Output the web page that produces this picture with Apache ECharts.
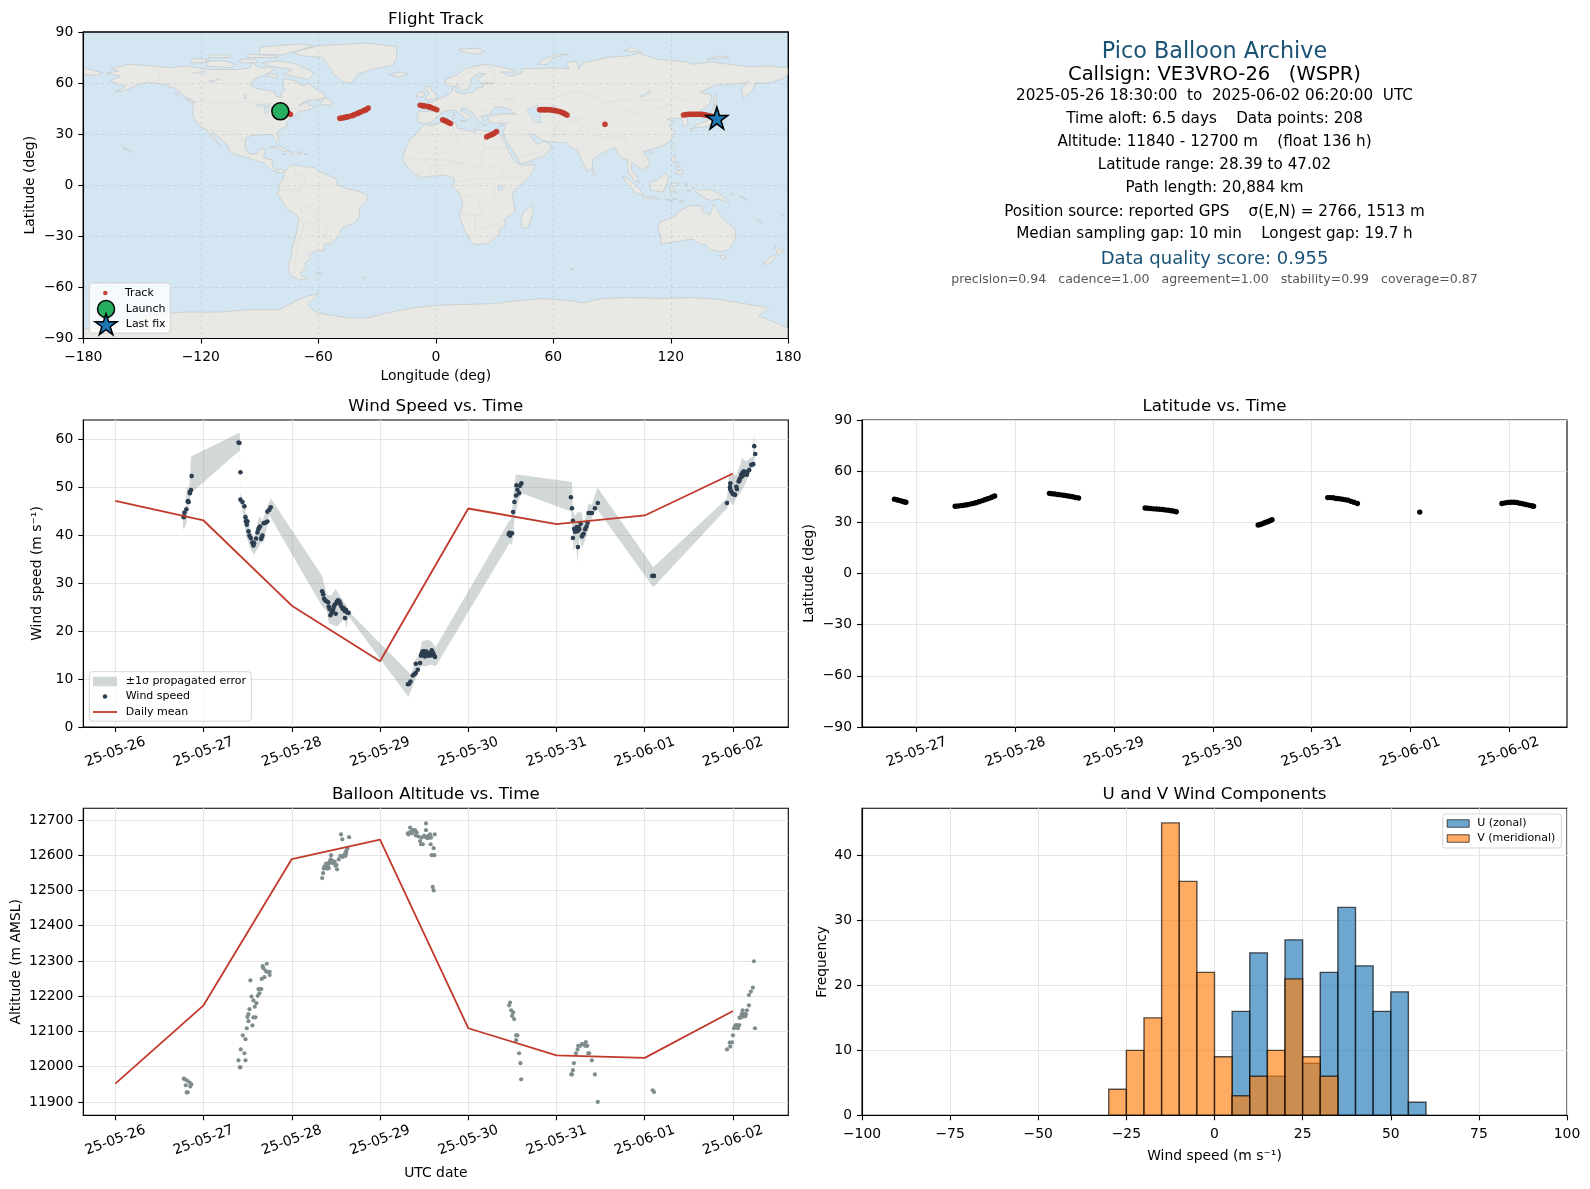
<!DOCTYPE html>
<html><head><meta charset="utf-8">
<script src="https://cdn.jsdelivr.net/npm/echarts@6/dist/echarts.min.js"></script>
<style>html,body{margin:0;padding:0;background:#fff}#c{width:1590px;height:1189px}</style>
</head><body><div id="c"></div>
<script>
// ---------- data ----------
const dayTicks=[0,1,2,3,4,5,6,7];
const dayLabels=['25-05-26','25-05-27','25-05-28','25-05-29','25-05-30','25-05-31','25-06-01','25-06-02'];
const windTicks=[0,10,20,30,40,50,60];
const altTicks=[11900,12000,12100,12200,12300,12400,12500,12600,12700];
const freqTicks=[0,10,20,30,40];
const dailyWind=[47.15,43.05,25.3,13.7,45.55,42.3,44.1,52.85];
const dailyAlt=[11952,12174,12589,12644,12109,12032,12025,12158];
const windPoints=[[.775,43.75],[.783,44.7],[.777,43.9],[.805,45.4],[.82,47],[.831,46.9],[.825,47.1],[.846,48.75],[.843,49],[.858,49.4],[.865,52.3],
[1.396,59.3],[1.407,59.2],[1.418,53.1],[1.418,47.4],[1.441,46.9],[1.463,46],[1.475,43.75],[1.479,42.85],[1.49,42.15],[1.497,42.85],[1.486,43],[1.509,40.8],[1.52,39.9],[1.535,39.4],[1.554,38.5],[1.565,37.85],[1.573,38.3],[1.558,38.3],[1.595,39.3],[1.61,40.55],[1.621,41.25],[1.64,41.8],[1.63,41.6],[1.652,39.2],[1.667,39.9],[1.66,39.6],[1.682,42.5],[1.704,42.6],[1.723,42.85],[1.723,44.9],[1.746,45.3],[1.761,45.8],
[2.344,28.3],[2.355,27.7],[2.366,26.8],[2.378,26.4],[2.393,26.2],[2.412,26],[2.419,25.1],[2.427,24.6],[2.438,23.3],[2.449,23.75],[2.464,24.1],[2.476,25.1],[2.487,25.5],[2.498,23.6],[2.506,26],[2.517,26.2],[2.524,26.4],[2.54,26.2],[2.551,25.7],[2.562,25.1],[2.577,24.6],[2.588,24.8],[2.6,24.2],[2.615,24.4],[2.626,23.9],[2.603,22.7],[2.645,23.8],[2.53,25.8],[2.47,24.6],
[3.315,8.9],[3.33,9],[3.345,9.5],[3.371,10.75],[3.39,11],[3.405,11.25],[3.405,13.2],[3.427,11.95],[3.454,13.35],[3.465,14.85],[3.48,15.75],[3.495,15.4],[3.51,14.7],[3.525,15.75],[3.548,14.85],[3.567,15.4],[3.586,16],[3.604,15.3],[3.623,14.6],[3.535,15.2],[3.575,14.9],[3.595,15.6],[3.612,14.9],[3.5,15.8],[3.47,15.2],
[4.459,40.2],[4.474,39.9],[4.497,40.4],[4.467,40.5],[4.508,44.8],[4.523,46.9],[4.542,48.25],[4.557,49.45],[4.576,48.75],[4.546,50.4],[4.587,50.3],[4.602,50.8],
[5.163,47.9],[5.175,45.6],[5.186,43],[5.186,39.4],[5.201,41.3],[5.216,41],[5.231,41.7],[5.243,37.5],[5.239,40.8],[5.258,41.25],[5.273,42.35],[5.288,39.7],[5.307,40.3],[5.325,41.25],[5.34,41.8],[5.352,42.6],[5.363,44.6],[5.401,44.6],[5.435,45.6],[5.468,46.7],[5.21,40.7],[5.25,41.6],[5.295,40],[5.38,44.6],
[6.086,31.5],[6.105,31.5],
[6.932,46.7],[6.97,50.8],[6.966,50],[6.968,49.6],[6.981,49.1],[6.996,48.6],[7.023,48.4],[7.038,50.1],[7.045,49.6],[7.064,51.2],[7.075,51.7],[7.087,52],[7.072,51.3],[7.094,52.6],[7.109,53.05],[7.124,53.3],[7.139,52.9],[7.158,52.6],[7.166,53.2],[7.184,53.6],[7.207,54.65],[7.23,54.8],[7.241,58.55],[7.252,56.9],[7.01,48.5],[7.1,52.2],[7.115,52.5],[7.13,52.7],[7.15,53]];
const bandUpper=[[.764,43.2],[.794,44.6],[.809,49.8],[.839,50.1],[.858,56.4],[1.396,61.25],[1.411,61.25],[1.418,48.75],[1.43,48.05],[1.46,46.65],[1.479,44.6],[1.516,41.8],[1.561,39.4],[1.584,39.7],[1.629,44],[1.667,42.85],[1.723,46],[1.761,47.7],[2.344,31.5],[2.363,30],[2.4,27.6],[2.45,27.4],[2.494,28.75],[2.551,27.2],[2.626,25.1],[2.645,24.1],[3.352,10.9],[3.405,14],[3.454,15.75],[3.473,17.85],[3.548,18.2],[3.585,17.85],[3.631,16.65],[4.459,42.85],[4.486,43.2],[4.497,44.6],[4.512,48.75],[4.542,52.9],[4.553,52.55],[4.602,52.55],[5.175,51.1],[5.186,45.3],[5.212,43.9],[5.239,44.9],[5.258,44.6],[5.28,45.05],[5.307,42.5],[5.333,43.9],[5.363,46.65],[5.401,46.3],[5.465,49.95],[6.097,33.3],[6.933,47.7],[6.963,53.6],[6.99,52.55],[7.038,52.55],[7.076,54.3],[7.102,56.05],[7.151,55.35],[7.189,56.05],[7.226,56.4],[7.238,61.25],[7.249,57.8]];
const bandLower=[[.771,41.1],[.801,42.15],[.831,46],[.858,48.75],[1.396,57.45],[1.411,57.45],[1.418,46.65],[1.441,45.3],[1.467,41.8],[1.49,39.4],[1.535,36.95],[1.573,35.9],[1.648,38.35],[1.685,38.7],[1.742,44.25],[2.344,25.1],[2.4,24.1],[2.419,21.65],[2.513,20.95],[2.6,22.7],[2.619,20.6],[2.645,23.05],[3.322,6.25],[3.341,7.1],[3.405,10.2],[3.465,12.65],[3.51,12.65],[3.585,13],[3.631,12.65],[4.467,38.3],[4.497,38],[4.527,43.9],[4.572,47.35],[4.602,48.75],[5.167,44.9],[5.182,41.1],[5.194,36.6],[5.224,38.35],[5.239,34.15],[5.258,39.7],[5.288,37.3],[5.325,39],[5.37,41.8],[5.42,44.6],[5.465,45.3],[6.097,29.15],[6.933,45.6],[6.963,47],[7,46.3],[7.038,47.7],[7.095,49.1],[7.151,51.2],[7.207,54],[7.238,54],[7.249,56.05]];
const altPoints=[[.775,11966],[.79,11964],[.816,11960],[.842,11955],[.861,11950],[.85,11944],[.798,11947],[.809,11927],[.82,11927],
[1.411,11998],[1.418,11998],[1.396,12018],[1.475,12018],[1.463,12038],[1.422,12049],[1.475,12078],[1.445,12089],[1.49,12109],[1.554,12117],[1.509,12129],[1.497,12141],[1.565,12140],[1.588,12140],[1.509,12149],[1.52,12163],[1.58,12170],[1.599,12180],[1.565,12188],[1.543,12199],[1.614,12201],[1.633,12208],[1.622,12220],[1.64,12220],[1.655,12220],[1.531,12245],[1.659,12249],[1.689,12254],[1.749,12260],[1.716,12269],[1.749,12269],[1.704,12272],[1.678,12279],[1.67,12285],[1.716,12292],
[2.344,12535],[2.355,12549],[2.363,12562],[2.381,12565],[2.4,12570],[2.412,12574],[2.419,12563],[2.427,12581],[2.445,12600],[2.464,12584],[2.476,12579],[2.494,12570],[2.513,12560],[2.506,12572],[2.532,12588],[2.551,12598],[2.577,12595],[2.592,12600],[2.607,12607],[2.619,12612],[2.63,12619],[2.558,12659],[2.573,12645],[2.649,12651],[2.4,12562],[2.44,12588],[2.487,12581],[2.607,12598],[2.615,12604],[2.37,12568],[2.39,12576],[2.455,12578],
[3.315,12662],[3.322,12659],[3.341,12678],[3.36,12662],[3.371,12671],[3.397,12671],[3.405,12656],[3.416,12664],[3.435,12653],[3.454,12640],[3.465,12631],[3.484,12631],[3.473,12650],[3.499,12655],[3.521,12690],[3.521,12671],[3.529,12650],[3.548,12655],[3.567,12659],[3.578,12650],[3.619,12659],[3.574,12631],[3.608,12620],[3.585,12600],[3.615,12600],[3.597,12510],[3.608,12500],[3.34,12665],[3.385,12668],[3.51,12652],[3.54,12648],[3.56,12650],
[4.474,12182],[4.463,12174],[4.486,12160],[4.508,12154],[4.497,12144],[4.52,12135],[4.542,12089],[4.557,12089],[4.542,12075],[4.576,12038],[4.591,12010],[4.599,11964],
[5.167,11978],[5.186,11990],[5.197,12010],[5.22,12038],[5.239,12049],[5.246,12059],[5.269,12059],[5.288,12064],[5.307,12064],[5.333,12070],[5.325,12059],[5.348,12059],[5.359,12038],[5.37,12038],[5.401,12018],[5.435,11978],[5.468,11900],[5.175,11978],
[6.09,11933],[6.105,11928],
[6.932,12049],[6.97,12057],[6.962,12068],[6.989,12069],[7,12089],[7.011,12109],[7.026,12116],[7.045,12117],[7.072,12118],[7.056,12109],[7.075,12139],[7.094,12142],[7.113,12144],[7.132,12149],[7.147,12149],[7.109,12160],[7.158,12160],[7.181,12174],[7.181,12203],[7.203,12213],[7.226,12224],[7.237,12299],[7.249,12109],[7.035,12118],[7.085,12139],[7.1,12150],[7.12,12142],[7.14,12143]];
const latPoints=[[.775,43.6],[.8,43.2],[.82,42.9],[.84,42.6],[.86,42.2],[.875,42],[.89,41.8],
[1.39,39.4],[1.42,39.6],[1.45,39.8],[1.48,40],[1.51,40.3],[1.54,40.7],[1.57,41],[1.6,41.5],[1.63,42.1],[1.66,42.6],[1.69,43.2],[1.72,43.8],[1.75,44.4],[1.77,45],[1.79,45.4],
[2.345,47],[2.37,46.8],[2.4,46.6],[2.43,46.3],[2.46,46.1],[2.49,45.9],[2.52,45.6],[2.55,45.3],[2.58,45],[2.61,44.6],[2.64,44.3],
[3.315,38.4],[3.34,38.3],[3.37,38.1],[3.4,37.9],[3.43,37.8],[3.46,37.7],[3.49,37.5],[3.52,37.3],[3.55,37.1],[3.58,36.8],[3.61,36.5],[3.63,36.2],
[4.46,28.4],[4.48,28.7],[4.5,29.1],[4.52,29.6],[4.54,30.1],[4.56,30.5],[4.58,31],[4.6,31.5],
[5.165,44.5],[5.19,44.5],[5.22,44.4],[5.25,44],[5.28,43.9],[5.31,43.6],[5.34,43.3],[5.37,43],[5.4,42.3],[5.43,41.8],[5.465,41],
[6.097,36],
[6.93,41],[6.96,41.4],[6.99,41.7],[7.02,41.8],[7.05,41.8],[7.08,41.6],[7.11,41.2],[7.14,40.9],[7.17,40.5],[7.2,40.1],[7.23,39.7],[7.25,39.4]];
const trackPoints=[[-77,43.3],[-75.5,42.5],[-74.3,41.7],
[-49,39.3],[-48,39.5],[-47,39.7],[-46,40],[-45,40.2],[-44.5,40.4],[-43,40.8],[-42.2,41.1],[-41.5,41.5],[-40,42.2],[-39.2,42.6],[-38.5,43],[-37,43.7],[-36.2,44.1],[-35.5,44.5],[-34.5,45.3],
[-8,47],[-7,46.8],[-6.2,46.6],[-5.5,46.5],[-4,46.2],[-3.2,46],[-2.5,45.7],[-1,45],[.5,44.3],
[3.5,38.4],[4.5,38],[5.5,37.5],[6.5,36.8],[7.5,36.2],
[26,28.4],[27,29],[28,29.5],[29,30],[30,30.7],[31,31.5],
[53,44.3],[54,44.4],[55,44.4],[56,44.4],[57,44.4],[58,44.3],[59,44.2],[60,44],[61,43.8],[62,43.6],[63,43.3],[64,43],[65,42.5],[66,41.9],[67,41.2],
[86.4,35.8],
[126.5,41.3],[127.7,41.5],[129,41.6],[130,41.7],[131,41.7],[132,41.7],[133,41.7],[134,41.7],[135,41.7],[136,41.6],[137,41.4],[138,41.2],[139,41],[140,40.7],[141,40.4],[142,40],[143,39.7]];
const launchPoint=[-79.4,43.4];
const lastFixPoint=[143.5,39.5];
const histBins=[-30,-25,-20,-15,-10,-5,0,5,10,15,20,25,30,35,40,45,50,55];
const histU=[0,0,0,0,0,0,0,16,25,6,27,8,22,32,23,16,19,2];
const histV=[4,10,15,45,36,22,9,3,6,10,21,9,6,0,0,0,0,0];
const infoTitle='Pico Balloon Archive';
const infoCall='Callsign: VE3VRO-26   (WSPR)';
const infoLines=['2025-05-26 18:30:00  to  2025-06-02 06:20:00  UTC','Time aloft: 6.5 days    Data points: 208','Altitude: 11840 - 12700 m    (float 136 h)','Latitude range: 28.39 to 47.02','Path length: 20,884 km','Position source: reported GPS    σ(E,N) = 2766, 1513 m','Median sampling gap: 10 min    Longest gap: 19.7 h'];
const infoScore='Data quality score: 0.955';
const infoParts='precision=0.94   cadence=1.00   agreement=1.00   stability=0.99   coverage=0.87';
// coastlines, [lon,lat]
const land=[
[[-168,66],[-162,67],[-166,68.5],[-157,71],[-150,70.5],[-141,69.7],[-135,69],[-128,70],[-115,68],[-108,68],[-100,68],[-95,69],[-94,72],[-90,69],[-85,69.5],[-82,68],[-87,65],[-93,62],[-95,59],[-92,57],[-85,55.3],[-82,55],[-82,52.5],[-79,51.5],[-79,54.5],[-77,56],[-78,58.5],[-78,62.5],[-72,61.5],[-68,58.5],[-65,60],[-62,57],[-58,54.5],[-56,52],[-60,50],[-66,50],[-70,47],[-65,49],[-65,47],[-61,46],[-66,44],[-70,43.5],[-71,41.5],[-74,40.5],[-76,37],[-76,35],[-81,31.5],[-80,26],[-81,25],[-83,29],[-85,30],[-90,29.5],[-94,29.5],[-97,27.5],[-97.5,22],[-95,18.5],[-91,18.5],[-90.5,21],[-87,21.5],[-88,16],[-83.5,15],[-83.5,11],[-81,9],[-79,9.5],[-77,8.5],[-78,7.5],[-80,7.5],[-83,8.5],[-86,11],[-88,13],[-92,14.5],[-96,16],[-102,18],[-105.5,20],[-106,23],[-110,27],[-112.5,30],[-114.5,31.5],[-113,28],[-110,23],[-112,25],[-115,29],[-117,32.5],[-120.5,34.5],[-124,40],[-124,46],[-123,49],[-128,52],[-132,56],[-138,59],[-146,60.5],[-152,59],[-158,56],[-164,54.5],[-158,58.5],[-162,59],[-166,61.5],[-161,64],[-168,66]],
[[-77,8],[-75,11],[-72,12],[-68,11],[-62,10.5],[-60,8.5],[-55,6],[-51,4],[-50,0],[-44,-2.5],[-39,-3.5],[-35,-6],[-35,-9],[-39,-13],[-39,-18],[-41,-22],[-45,-23.5],[-48.5,-26],[-49,-29],[-53,-34],[-57,-34.8],[-57,-38],[-62,-39],[-65,-41],[-64,-43],[-67,-46],[-66,-48],[-69,-51],[-68.5,-53],[-65,-55],[-70,-55.5],[-74,-53],[-75.5,-47],[-73.5,-42],[-73.5,-37],[-71.5,-30],[-70,-20],[-71,-17.5],[-76,-14],[-79,-8],[-81,-5],[-80,-2],[-80,1],[-78,3],[-77.5,7],[-77,8]],
[[-73,78],[-60,82],[-35,83.5],[-20,81.5],[-20,75],[-22,70.5],[-33,68],[-40,65],[-43,60],[-48,61],[-52,65],[-54,69],[-58,75],[-68,76],[-73,78]],
[[-9,37],[-9.5,39],[-9,43.5],[-2,43.5],[-1,46],[-4.5,48.5],[-1.5,49],[2,51],[4,52],[7,53.5],[8.5,55.5],[8.5,57],[10.5,57.5],[10,55],[12,54],[14,54],[19,54.5],[21,57],[24,57.5],[24,59.5],[30,60],[23,60],[21,62],[25,65.5],[22,65.8],[17.5,62],[18.5,60],[16.5,56.5],[13,55.5],[11,59],[8,58],[5,59],[5,62],[11,65],[15,68.5],[20,70],[26,71],[31,70],[40,67.5],[41,66.5],[33,66.5],[38,64],[44,66],[44,68.5],[54,68.5],[60,69],[68,68.5],[67,72],[72,73],[73,68],[75,72],[82,73.5],[87,75],[98,76],[104,77.5],[113,74],[128,72.5],[131,71],[140,72.5],[150,71],[160,69.5],[170,70],[180,69],[180,65],[177,62.5],[170,60],[163,60],[162,56],[157,51],[156,57],[160,61],[155,59.5],[143,59],[135,54.5],[141,53],[140,48],[135,43.5],[130,42.5],[128,40],[129,36],[126,34.5],[126,37],[125,39.5],[121,39],[118,39],[122,37],[119,35],[122,31],[121,28],[117,23.5],[110,21],[106,20],[109,14],[109,11.5],[105,9],[103,11],[100,13.5],[100,9],[103,4],[104,1.5],[101,3],[98,8],[98,15],[94.5,16],[91,22.5],[86.5,20],[80,15],[80,10],[77.5,8],[73,18],[72.5,21],[69,22],[66.5,25],[57,25.5],[54,26.5],[50,30],[48,30],[50,26],[52,24],[56,26],[59.5,22.5],[55,17],[45,13],[43,13],[39,21],[35,28],[34.5,31.5],[36,36.5],[30,36.5],[27,37],[26.5,40],[29,41],[35,42],[41,41.5],[37,45],[33,46],[30,46],[28,42],[26,41],[23,40.5],[24,38],[22.5,36.5],[19.5,41],[19,42.5],[13.5,45.5],[12.5,44],[18,40.5],[16,38],[12.5,42],[9,44.5],[3.5,43],[0,39.5],[-2,37],[-5.5,36],[-9,37]],
[[-180,69],[-175,67.5],[-170,66],[-173,64.5],[-180,65]],
[[-6,35.8],[-2,35],[3,37],[10,37.3],[11,33.5],[15,32.5],[20,31],[20,33],[25,31.8],[32,31.3],[34,28],[37,21],[39,16],[43,12],[51,12],[48,5],[42,-1],[39,-5],[40.5,-15],[35,-20],[35.5,-24],[32.5,-26],[32,-29],[27,-34],[20,-35],[18,-33],[15,-27],[12,-18],[14,-11],[12,-5],[9,-1],[9.5,4],[5,6],[-4,5],[-8,4.5],[-13,9],[-17,14.5],[-16,20],[-13,27.5],[-10,30],[-6,35.8]],
[[114,-22],[122,-18],[126,-14],[130,-12],[136,-12],[136,-15],[140,-17.5],[142,-11],[146,-19],[153,-26],[153,-31],[150,-37.5],[146,-39],[140,-38],[138,-35],[135,-34.5],[131,-31.5],[124,-33],[115,-34.5],[115,-31],[113.5,-26],[114,-22]],
[[-180,-84],[-170,-84],[-158,-80],[-150,-77],[-130,-74.5],[-110,-74.5],[-95,-73],[-80,-73],[-75,-70],[-68,-66],[-60,-63.5],[-62,-66],[-65,-70],[-62,-74],[-60,-75],[-45,-78],[-35,-78],[-25,-75],[-12,-72],[0,-70.5],[15,-70],[30,-69.5],[40,-68],[55,-66.5],[70,-68],[75,-69],[85,-66.5],[100,-66],[115,-66.5],[130,-66],[145,-67],[160,-70],[170,-72],[165,-77],[170,-79],[180,-84],[180,-90],[-180,-90]],
[[-80,73],[-72,71.5],[-62,66],[-65,62],[-72,64],[-78,65],[-73,68],[-85,70],[-89,72]],
[[-117,70],[-105,69],[-102,71],[-108,73],[-117,73]],[[-125,72],[-118,72],[-116,74],[-124,74.5]],[[-90,77],[-78,76.5],[-62,82],[-70,83],[-90,81]],[[-96,75],[-80,75],[-82,76],[-96,77]],[[-116,75],[-105,75],[-106,76.5],[-116,76.5]],[[-100,72],[-91,72],[-92,74],[-100,74]],[[-87,64],[-81,63],[-81,65],[-86,65.5]],
[[-59,47.5],[-53,46.8],[-53,49],[-56,51.5],[-58,50]],[[-24,65],[-18,66.5],[-14,65],[-19,63.5]],[[12,79],[20,77],[25,78.5],[22,80.5],[12,80]],[[52,71],[57,71],[60,75],[68,77],[60,76.5],[54,73]],[[96,79],[105,78],[100,81]],[[138,74],[150,75],[145,76]],
[[142,46],[143.5,49],[143,54],[142,52]],[[140,42],[143,42],[145,43.5],[142,45.5]],[[131,34],[136,34],[140,35],[142,39],[141,41],[139,38],[133,35.5]],[[130,31.5],[132,33],[130,33.5]],
[[120,23],[121,22],[122,25],[121,25]],[[109,19],[111,19],[110,20]],[[120,16],[122,18.5],[122,14],[124,13],[120.5,14]],[[122,7],[126,6],[126,9],[123,8.5]],[[122,10],[125,10.5],[124,12]],
[[109,1.5],[113,3],[117,7],[119,5],[118,1],[116,-4],[110,-3]],[[95,5.5],[98,4],[104,-2],[106,-6],[102,-4.5],[98,1]],[[105,-6.5],[110,-6.5],[114.5,-8],[106,-7.5]],[[119.5,-5],[120,1],[125,1.5],[121,-1],[123,-5],[121,-3]],[[131,-1],[135,-3],[141,-2.5],[146,-6],[150,-10.5],[144,-8],[141,-9],[138,-8],[133,-4]],[[150,-5],[152,-4.5],[151,-6]],[[155,-6],[157,-7],[159,-9]],
[[173,-35],[176,-38],[178,-38],[175,-41.5],[174,-39]],[[172.5,-41],[174,-42],[170,-46.5],[167,-46],[170,-43]],[[145,-41],[148,-41],[147.5,-43.5],[146,-43.5]],[[49,-12],[50,-16],[47,-25],[44,-25],[43.5,-21],[44.5,-16]],[[80,9.5],[82,7],[80.5,6],[79.8,8]],
[[-85,22],[-80,23],[-74.5,20],[-78,20],[-82,22.5]],[[-74,19.5],[-69,19.5],[-68.5,18.5],[-74,18]],[[-78,18.5],[-76.5,18],[-78,18]],[[-67,18.5],[-65.5,18.3],[-67,18]],[[-160,22],[-155,20],[-155.5,19],[-157,21]],[[-128,50.5],[-125,50],[-123.5,48.5],[-125,48.5]],[[-133,54],[-131,54],[-131.5,52]],
[[-61,-51.5],[-58,-51.5],[-58.5,-52.3],[-61,-52]],[[-38,-54],[-36,-54],[-37,-54.8]],[[69,-49],[70.5,-49],[70,-50]],
[[-5,50],[1,51],[0,53.5],[-2,56],[-3,58.5],[-6,57],[-3,54],[-5,52]],[[-10,52],[-6,52],[-6,55],[-9,54.5]],[[12.5,38],[15.5,38],[15,36.8]],[[8.3,41],[9.7,41],[9.5,39],[8.5,39]],[[8.7,43],[9.5,43],[9.3,41.5]],[[23.5,35.5],[26,35.2],[24,35]],[[32.5,35],[34.5,35.6],[33,34.6]],
[[164,-20],[167,-22],[165,-21.8]],[[177,-17.5],[178.5,-18],[177.5,-18.5]],[[124,-9.5],[127,-8.5],[125,-10]],[[117,-8.5],[123,-8],[120,-9]],[[127.5,2],[128.5,1],[128,-1]],[[128,-3],[130.5,-3],[129,-3.6]]
];
const lakes=[[[-92,47],[-85,48],[-85,46.7],[-90,46.5]],[[-87.5,46],[-85,46],[-86,42],[-87.5,42]],[[-84,46],[-80,45.5],[-82,43.2],[-83.5,44]],[[-83,42],[-79,43],[-79,42.5],[-82.5,41.4]],[[-79.5,43.8],[-76.5,44],[-76.5,43.3],[-79,43.2]],[[47,45],[52,47],[53,42],[54,37],[50,37],[49,40],[47,43]],[[59,46.5],[61.5,46.5],[60,44]],[[104,52],[110,55.8],[109,54],[105,51.5]],[[32,0],[34,0],[34,-3],[32,-3]],[[-98,53],[-97,53.5],[-97,50.5],[-98,51]],[[-124,66],[-118,67],[-118,65.5]],[[-116,61],[-110,62.7],[-113,61]]];
const borders=[
[[-123,49],[-95,49],[-89,48],[-83,46],[-82,43],[-79,43],[-75,45],[-71,45],[-67,47],[-67,45]],[[-141,69.7],[-141,60],[-135,59],[-130,55]],[[-117,32.5],[-108,31.5],[-106,31.7],[-101,29.5],[-97.5,26]],[[-92,14.5],[-91,17.5],[-89,17.8],[-88.2,15.8]],[[-72,12],[-72,7],[-67,6],[-67,1.5],[-70,-4],[-74,-7.5],[-70,-11],[-69,-11],[-58,-16],[-58,-20],[-54.5,-25.5],[-57.5,-30],[-53.5,-33.5]],[[-80,-3.5],[-75,-2],[-70,-4]],[[-69,-20],[-67,-23],[-70,-33],[-72,-45],[-72,-52]],[[-69,-11],[-69,-17.5],[-69,-20]],[[-67,-23],[-62,-22],[-58,-20]],[[-60,8],[-60,5],[-56.5,2],[-51.5,4.5]],[[-54.5,-25.5],[-58,-27],[-62,-22]],
[[-9,27.5],[-1,32],[-2,35]],[[-9,27.5],[-5,25],[4,19],[12,23.5],[9.5,30],[8,37]],[[25,31.8],[25,20]],[[25,22],[37,22]],[[15,23],[24,20],[23,10],[14,13],[15,23]],[[-12,15],[-5,15],[4,15],[14,13]],[[-16,16],[-12,15],[-5,25]],[[3,6.5],[3,12],[14,13],[9,4.5]],[[24,12],[33,10],[37,14.5],[43,12]],[[33,10],[35,5],[41,4],[48,8],[43,11]],[[34,-1],[41,-2]],[[34,-1],[30,-1],[29,-5],[30,-8],[34,-10],[40.5,-11]],[[12,-6],[22,-7],[22,-11],[28,-12],[30,-8]],[[18,3.5],[30,4],[35,5]],[[12,-17],[24,-18],[22,-11]],[[20,-18],[20,-28],[17,-29]],[[20,-25],[26,-25],[32,-22],[35,-20]],[[30,-15],[35,-11]],[[-8,4.5],[-8,10],[-5,15]],[[-3,5],[-3,11],[3,12]],[[9.5,2],[18,3.5]],
[[-2,43.5],[3,42.5]],[[8,49],[7,47.5],[7,44]],[[14,54],[15,51]],[[23,54],[24,51],[22,49]],[[7,46],[13.5,46.5]],[[19,46],[22,44],[28,44]],[[24,51],[40,50],[38,47]],[[28,60],[28,56],[32,53],[40,50]],[[30,60],[30,68],[26,70]],[[12,59],[13,64],[20,69]],[[6,51],[8,49]],[[15,51],[22,49],[19,46],[13.5,46.5]],[[-9,42],[-7,37]],
[[47,48],[50,51],[60,51],[70,55],[77,54],[87,49]],[[87,49],[92,45],[105,42],[112,45],[120,47],[116,50],[98,50],[87,49]],[[120,53],[127,50],[135,48],[131,43]],[[87,49],[80,42],[74,39]],[[74,36],[80,30],[88,28],[97,28],[98,24],[102,21],[106,23]],[[68,24],[71,28],[74,33],[74,36]],[[61,25],[61,35],[66,37],[74,38]],[[48,30],[46,35],[44,39]],[[35,29],[39,32],[47,29],[48,28]],[[43,17],[52,19],[56,22]],[[98,10],[98,17],[101,21]],[[102,21],[107,16],[106,11],[103,11]],[[125,40],[130,42.5]],[[53,42],[56,45],[59,43],[66,41],[74,39]],[[36,36.5],[42,37],[44,39]],[[41,41.5],[44,39]],[[61,35],[66,30],[61,29]]
];
// ---------- page frame in pixels ----------
const FF='"DejaVu Sans"';
const G={lx:83.3,rx:862,w:705,t1:32,h1:306.5,t2:420,t3:808.3,h:307};
const RED='#c0392b',GRID='#e5e5e5';
const TICK=13.9,NAME=13.9,TITLE=16.7;
function ax(o){return Object.assign({nameLocation:'middle',nameTextStyle:{fontFamily:FF,fontSize:NAME,color:'#000'},
 axisLine:{show:true,onZero:false,lineStyle:{color:'#000',width:1.1}},
 axisTick:{show:true,inside:false,length:5,lineStyle:{color:'#000',width:1.1}},
 splitLine:{show:true,lineStyle:{color:GRID,width:1.1}},minorTick:{show:false}},o);}
function lab(o){return Object.assign({fontFamily:FF,fontSize:TICK,color:'#000',margin:10,hideOverlap:false,showMinLabel:true,showMaxLabel:true},o);}
function dayAxis(i,min,max,ticks,name){
 const a=ax({type:'value',gridIndex:i,min,max,name:name||'',nameGap:51,
  axisLabel:lab({customValues:ticks,rotate:20,align:'center',verticalAlign:'middle',margin:25,formatter:v=>dayLabels[Math.round(v)]||''})});
 a.axisTick=Object.assign({},a.axisTick,{customValues:ticks});return a;}
function valAxis(i,min,max,ticks,name,gap){
 const a=ax({type:'value',gridIndex:i,min,max,name,nameGap:gap,scale:true,
  axisLabel:lab({customValues:ticks,padding:[2,0,0,0],formatter:v=>String(v).replace('-','\u2212')})});
 a.axisTick=Object.assign({},a.axisTick,{customValues:ticks});return a;}
function stepAxis(i,min,max,step,name,gap,extra){
 return ax(Object.assign({type:'value',gridIndex:i,min,max,interval:step,name,nameGap:gap,
  axisLabel:lab({padding:[2,0,0,0],formatter:v=>String(v).replace('-','\u2212')})},extra||{}));}
function legendRow(name,icon,w,h,style,cx,y,textX,fs){
 const left=cx-w/2;
 return {show:true,orient:'vertical',left,top:y-Math.max(h,fs+2)/2,padding:0,itemWidth:w,itemHeight:h,itemGap:0,selectedMode:false,z:100,
  data:[{name,icon,itemStyle:style}],
  textStyle:{fontFamily:FF,fontSize:fs,color:'#000',lineHeight:fs+2,padding:[0,0,0,Math.max(0,textX-(left+w+5))]}};}
const STAR='path://M50 0L61.8 36.3L100 36.3L69.1 58.8L80.9 95.1L50 72.6L19.1 95.1L30.9 58.8L0 36.3L38.2 36.3Z';
function polyRender(list,fill,stroke,lw,closed){
 return function(p,api){const pts=list[p.dataIndex].map(c=>api.coord(c));
  return closed?{type:'polygon',shape:{points:pts},style:{fill,stroke,lineWidth:lw}}
   :{type:'polyline',shape:{points:pts},style:{fill:null,stroke,lineWidth:lw}};};}
function anchors(list){return list.map(p=>p[0]);}
function histRender(vals){
 return function(p,api){const i=p.dataIndex;if(!vals[i])return null;
  const a=api.coord([histBins[i],vals[i]]),b=api.coord([histBins[i]+5,0]);
  return {type:'rect',shape:{x:a[0],y:a[1],width:b[0]-a[0],height:b[1]-a[1]},style:{fill:api.visual('color'),stroke:'#000',lineWidth:1.4,opacity:.65}};};}
const bandPoly=bandUpper.concat(bandLower.slice().reverse());
const info=[];
function txt(t,y,fs,col){info.push({type:'text',x:1214.5,y,silent:true,style:{text:t,font:fs+'px '+FF,fill:col,textAlign:'center',textVerticalAlign:'middle'}});}
txt(infoTitle,52,22.3,'#1a5276');txt(infoCall,75,19.5,'#000');
const lineY=[96.5,119.5,142.5,165.5,188.5,212,234.5];
infoLines.forEach((t,i)=>txt(t,lineY[i],15.2,'#000'));
txt(infoScore,259.5,18,'#1a5276');txt(infoParts,280,12.55,'#555');
const boxes=[[89.3,283,81,50],[89.3,671.7,162,49.5]].map(b=>({type:'rect',z:6,silent:true,shape:{x:b[0],y:b[1],width:b[2],height:b[3],r:3},style:{fill:'rgba(255,255,255,.8)',stroke:'rgba(204,204,204,.8)',lineWidth:1}}));
const frame={type:'rect',z:4,silent:true,shape:{x:G.lx,y:G.t1,width:G.w,height:G.h1},style:{fill:null,stroke:'#000',lineWidth:1.1}};
function title(t,cx,top){return {text:t,left:cx,top,textAlign:'center',padding:0,textStyle:{fontFamily:FF,fontSize:TITLE,fontWeight:'normal',color:'#000'}};}
const mapGrid={show:true,lineStyle:{color:'rgba(120,120,120,.2)',width:.8,type:[3,3]}};
const opt={animation:false,backgroundColor:'#fff',
title:[title('Flight Track',435.8,11),title('Wind Speed vs. Time',435.8,398.5),title('Latitude vs. Time',1214.5,398.5),title('Balloon Altitude vs. Time',435.8,786.5),title('U and V Wind Components',1214.5,786.5)],
grid:[
 {left:G.lx,top:G.t1,width:G.w,height:G.h1,show:true,backgroundColor:'#d4e6f1',borderColor:'#000',borderWidth:1.1},
 {left:G.lx,top:G.t2,width:G.w,height:G.h,show:true,borderColor:'#000',borderWidth:1.1},
 {left:G.rx,top:G.t2,width:G.w,height:G.h,show:true,borderColor:'#000',borderWidth:1.1},
 {left:G.lx,top:G.t3,width:G.w,height:G.h,show:true,borderColor:'#000',borderWidth:1.1},
 {left:G.rx,top:G.t3,width:G.w,height:G.h,show:true,borderColor:'#000',borderWidth:1.1}],
xAxis:[
 stepAxis(0,-180,180,60,'Longitude (deg)',31,{z:2,splitLine:mapGrid}),
 dayAxis(1,-.363,7.627,dayTicks),
 dayAxis(2,.446,7.589,dayTicks.slice(1)),
 dayAxis(3,-.363,7.627,dayTicks,'UTC date'),
 stepAxis(4,-100,100,25,'Wind speed (m s\u207B\u00B9)',34)],
yAxis:[
 stepAxis(0,-90,90,30,'Latitude (deg)',46,{z:2,splitLine:mapGrid}),
 valAxis(1,0,64,windTicks,'Wind speed (m s\u207B\u00B9)',39),
 stepAxis(2,-90,90,30,'Latitude (deg)',46),
 valAxis(3,11862,12733,altTicks,'Altitude (m AMSL)',60),
 valAxis(4,0,47.25,freqTicks,'Frequency',33)],
legend:[
 legendRow('Track','circle',4.5,4.5,{color:RED},105.3,293,125,11),
 legendRow('Launch','circle',17,17,{color:'#27ae60',borderColor:'#000',borderWidth:1.5},105.3,308.3,125,11),
 legendRow('Last fix',STAR,22,22,{color:'#1f77b4',borderColor:'#000',borderWidth:1.5},105.3,324,125,11),
 legendRow('\u00B11\u03C3 propagated error','rect',24,9.5,{color:'#7f8c8d',opacity:.35},105,681.5,125.7,11),
 legendRow('Wind speed','circle',4.5,4.5,{color:'#2c3e50'},105,696.5,125.7,11),
 legendRow('Daily mean','rect',24,1.8,{color:RED},105,712,125.7,11),
 {show:true,orient:'vertical',left:1442.7,top:814,padding:[4,6,4,4],itemWidth:22,itemHeight:7.5,itemGap:4,selectedMode:false,z:100,
  backgroundColor:'rgba(255,255,255,.8)',borderColor:'rgba(204,204,204,.8)',borderWidth:1,borderRadius:3,
  data:[{name:'U (zonal)',icon:'rect',itemStyle:{color:'#1f77b4',opacity:.65,borderColor:'#000',borderWidth:1}},{name:'V (meridional)',icon:'rect',itemStyle:{color:'#ff7f0e',opacity:.65,borderColor:'#000',borderWidth:1}}],
  textStyle:{fontFamily:FF,fontSize:11,color:'#000',padding:[0,0,0,3]}}
],
graphic:{elements:info.concat(boxes,[frame])},
series:[
 {type:'custom',name:'land',xAxisIndex:0,yAxisIndex:0,z:1,clip:true,silent:true,encode:{x:0,y:1},data:anchors(land),renderItem:polyRender(land,'#e8e8e4','#c3c8ca',.7,true)},
 {type:'custom',name:'borders',xAxisIndex:0,yAxisIndex:0,z:1.1,clip:true,silent:true,encode:{x:0,y:1},data:anchors(borders),renderItem:polyRender(borders,null,'#dcdcd8',.6,false)},
 {type:'custom',name:'lakes',xAxisIndex:0,yAxisIndex:0,z:1.2,clip:true,silent:true,encode:{x:0,y:1},data:anchors(lakes),renderItem:polyRender(lakes,'#d4e6f1','#c3c8ca',.5,true)},
 {type:'scatter',name:'Track',xAxisIndex:0,yAxisIndex:0,z:3,symbolSize:5.6,itemStyle:{color:RED,opacity:.95},data:trackPoints},
 {type:'scatter',name:'Launch',xAxisIndex:0,yAxisIndex:0,z:4,symbolSize:17,itemStyle:{color:'#27ae60',borderColor:'#000',borderWidth:1.5,opacity:1},data:[launchPoint]},
 {type:'scatter',name:'Last fix',xAxisIndex:0,yAxisIndex:0,z:4,symbol:STAR,symbolSize:22,itemStyle:{color:'#1f77b4',borderColor:'#000',borderWidth:1.5,opacity:1},data:[lastFixPoint]},
 {type:'custom',name:'\u00B11\u03C3 propagated error',xAxisIndex:1,yAxisIndex:1,z:1,clip:true,silent:true,itemStyle:{color:'#7f8c8d'},encode:{x:0,y:1},data:[bandUpper[0]],
  renderItem:(p,api)=>({type:'polygon',shape:{points:bandPoly.map(c=>api.coord(c))},style:{fill:'#7f8c8d',opacity:.35}})},
 {type:'scatter',name:'Wind speed',xAxisIndex:1,yAxisIndex:1,z:2,symbolSize:4.6,itemStyle:{color:'#2c3e50',opacity:1},data:windPoints},
 {type:'line',name:'Daily mean',xAxisIndex:1,yAxisIndex:1,z:3,showSymbol:false,symbol:'none',lineStyle:{color:RED,width:1.8},itemStyle:{color:RED},data:dailyWind.map((v,i)=>[dayTicks[i],v])},
 {type:'scatter',name:'lat',xAxisIndex:2,yAxisIndex:2,z:2,symbolSize:5.4,itemStyle:{color:'#000',opacity:1},data:latPoints},
 {type:'scatter',name:'alt',xAxisIndex:3,yAxisIndex:3,z:2,symbolSize:4.2,itemStyle:{color:'#7f8c8d',opacity:1},data:altPoints},
 {type:'line',name:'altMean',xAxisIndex:3,yAxisIndex:3,z:3,showSymbol:false,symbol:'none',lineStyle:{color:RED,width:1.8},data:dailyAlt.map((v,i)=>[dayTicks[i],v])},
 {type:'custom',name:'U (zonal)',xAxisIndex:4,yAxisIndex:4,z:2,clip:true,silent:true,itemStyle:{color:'#1f77b4'},encode:{x:0,y:1},data:histBins.map((b,i)=>[b,histU[i]]),renderItem:histRender(histU)},
 {type:'custom',name:'V (meridional)',xAxisIndex:4,yAxisIndex:4,z:3,clip:true,silent:true,itemStyle:{color:'#ff7f0e'},encode:{x:0,y:1},data:histBins.map((b,i)=>[b,histV[i]]),renderItem:histRender(histV)}
]};
const chart=echarts.init(document.getElementById('c'),null,{renderer:'canvas',width:1590,height:1189});
chart.setOption(opt);
</script></body></html>
